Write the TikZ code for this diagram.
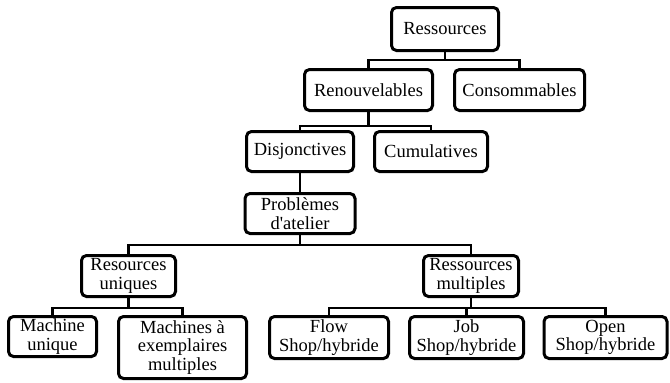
\documentclass[tikz,border=0pt]{standalone}
\usepackage{fontspec}
\setmainfont{Liberation Serif}
\usepackage{tikz}

\begin{document}
\begin{tikzpicture}[x = 1pt, y = -1pt,
        box/.style = {draw, line width = 3pt, rounded corners = 5pt, align = center,
            inner sep = 0pt, font = \fontsize{18.5}{18.5}\selectfont},
        link/.style = {line width = 2.5pt}]
        \useasboundingbox (0, 0) rectangle (670, 383);

        % boxes, centred on their pixel positions
        \node[box, minimum width = 107pt, minimum height = 43pt] (res) at (445, 29) {Ressources};
        \node[box, minimum width = 128pt, minimum height = 41pt] (ren) at (368.5, 90) {Renouvelables};
        \node[box, minimum width = 130pt, minimum height = 41pt] (con) at (519.5, 90) {Consommables};
        \node[box, minimum width = 107pt, minimum height = 40pt] (dis) at (300, 151.5) {Disjonctives};
        \node[box, minimum width = 113pt, minimum height = 40pt] (cum) at (431, 151.5) {Cumulatives};
        \node[box, minimum width = 110pt, minimum height = 40pt] (pb) at (300, 213.5) {Problèmes\\d\textquotesingle atelier};
        \node[box, minimum width = 94pt, minimum height = 41pt] (ru) at (128.5, 276) {Resources\\uniques};
        \node[box, minimum width = 95pt, minimum height = 41pt] (rm) at (471, 276) {Ressources\\multiples};
        \node[box, minimum width = 88pt, minimum height = 40pt] (mu) at (52.5, 336.5) {Machine\\unique};
        \node[box, minimum width = 128pt, minimum height = 62pt] (mem) at (182.5, 347.5) {Machines à\\exemplaires\\multiples};
        \node[box, minimum width = 119pt, minimum height = 42pt] (flow) at (329, 337.5) {Flow\\Shop/hybride};
        \node[box, minimum width = 114pt, minimum height = 42pt] (job) at (466.5, 337.5) {Job\\Shop/hybride};
        \node[box, minimum width = 123pt, minimum height = 42pt] (open) at (605.5, 337.5) {Open\\Shop/hybride};

        % tree links
        \draw[link] (res.south) -- ++(0, 8) coordinate (j1) -| (ren.north);
        \draw[link] (j1) -| (con.north);
        \draw[link] (ren.south) -- ++(0, 14) coordinate (j2) -| (dis.north);
        \draw[link] (j2) -| (cum.north);
        \draw[link] (dis.south) -- (pb.north);
        \draw[link] (pb.south) -- ++(0, 10) coordinate (j3) -| (ru.north);
        \draw[link] (j3) -| (rm.north);
        \draw[link] (ru.south) -- ++(0, 10) coordinate (j4) -| (mu.north);
        \draw[link] (j4) -| (mem.north);
        \draw[link] (rm.south) -- ++(0, 10) coordinate (j5) -| (flow.north);
        \draw[link] (j5) -| (job.north);
        \draw[link] (j5) -| (open.north);

    \end{tikzpicture}
\end{document}
